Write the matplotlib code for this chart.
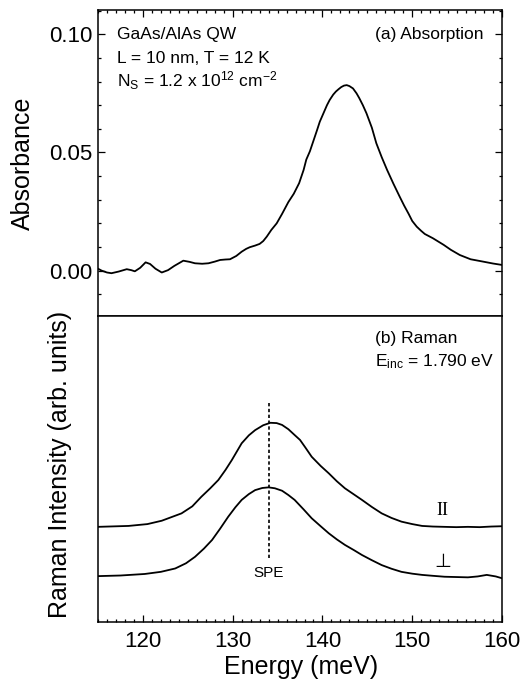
import numpy as np
import matplotlib
matplotlib.use("Agg")
import matplotlib.pyplot as plt
from matplotlib.ticker import MultipleLocator

plt.rcParams['font.family'] = ['Liberation Sans', 'DejaVu Sans']
plt.rcParams['mathtext.fontset'] = 'custom'
plt.rcParams['mathtext.rm'] = 'Liberation Sans'
plt.rcParams['mathtext.it'] = 'Liberation Sans:italic'

# (a) absorption spectrum
abs_energy = [115.0, 115.4, 116.0, 116.5, 117.3, 118.2, 118.7, 119.1, 119.7, 120.3,
              120.8, 121.4, 122.1, 122.8, 123.5, 124.5, 125.2, 125.8, 126.6, 127.3,
              128.0, 128.6, 129.2, 129.7, 130.4, 131.0, 131.5, 131.9, 132.5, 133.0,
              133.4, 133.8, 134.3, 134.9, 135.5, 136.2, 136.8, 137.4, 137.9, 138.2,
              138.6, 139.0, 139.4, 139.7, 140.1, 140.5, 140.8, 141.2, 141.5, 141.8,
              142.1, 142.4, 142.7, 143.0, 143.4, 143.8, 144.1, 144.5, 144.9, 145.5,
              146.0, 146.6, 147.2, 147.9, 148.6, 149.1, 149.6, 150.0, 150.5, 151.0,
              151.4, 151.9, 152.3, 152.9, 153.5, 154.3, 155.3, 156.5, 157.9, 159.0,
              160.0]
absorbance = [0.0008, 0.0000, -0.0008, -0.0011, -0.0004, 0.0006, 0.0002, -0.0003, 0.0012, 0.0035,
              0.0028, 0.0008, -0.0008, 0.0002, 0.0020, 0.0042, 0.0037, 0.0031, 0.0029, 0.0031,
              0.0038, 0.0045, 0.0047, 0.0048, 0.0062, 0.0080, 0.0092, 0.0099, 0.0106, 0.0113,
              0.0125, 0.0144, 0.0172, 0.0200, 0.0240, 0.0290, 0.0325, 0.0370, 0.0426, 0.0470,
              0.0505, 0.0550, 0.0595, 0.0630, 0.0665, 0.0700, 0.0722, 0.0745, 0.0758, 0.0768,
              0.0777, 0.0783, 0.0785, 0.0781, 0.0771, 0.0750, 0.0730, 0.0700, 0.0666, 0.0605,
              0.0539, 0.0480, 0.0426, 0.0368, 0.0313, 0.0275, 0.0240, 0.0210, 0.0186, 0.0168,
              0.0155, 0.0145, 0.0137, 0.0123, 0.0109, 0.0088, 0.0066, 0.0048, 0.0038, 0.0030,
              0.0024]

# (b) Raman spectra (arb. units, offset), parallel and perpendicular polarisation
raman_par_energy = [115.0, 118.4, 120.5, 122.1, 124.3, 125.5, 126.5, 127.5, 128.4, 129.2,
                    129.9, 131.0, 131.8, 132.5, 133.4, 134.2, 134.9, 135.5, 136.2, 136.9,
                    137.5, 138.1, 138.8, 139.8, 140.7, 141.6, 142.5, 143.5, 144.4, 145.5,
                    146.6, 147.7, 148.8, 150.0, 151.1, 152.3, 153.6, 154.9, 156.2, 157.5,
                    158.8, 160.0]
raman_par = [0.311, 0.314, 0.320, 0.331, 0.355, 0.378, 0.409, 0.437, 0.464, 0.497,
             0.529, 0.584, 0.610, 0.627, 0.643, 0.651, 0.650, 0.644, 0.630, 0.611,
             0.595, 0.570, 0.540, 0.510, 0.486, 0.460, 0.437, 0.417, 0.399, 0.376,
             0.355, 0.340, 0.328, 0.320, 0.314, 0.312, 0.311, 0.310, 0.311, 0.310,
             0.312, 0.313]

raman_perp_energy = [115.0, 117.5, 120.2, 122.0, 123.6, 124.8, 125.8, 126.8, 127.7, 128.6,
                     129.5, 130.3, 131.0, 131.8, 132.5, 133.3, 134.0, 134.7, 135.5, 136.2,
                     136.9, 137.9, 138.8, 139.8, 140.7, 141.6, 142.5, 143.5, 144.4, 145.5,
                     146.6, 147.7, 148.8, 150.0, 151.1, 152.3, 153.6, 154.9, 156.2, 157.3,
                     158.3, 159.3, 160.0]
raman_perp = [0.150, 0.152, 0.157, 0.164, 0.175, 0.192, 0.213, 0.240, 0.268, 0.305,
              0.344, 0.375, 0.399, 0.418, 0.431, 0.438, 0.440, 0.437, 0.429, 0.415,
              0.399, 0.368, 0.339, 0.313, 0.290, 0.270, 0.252, 0.235, 0.219, 0.202,
              0.186, 0.174, 0.164, 0.158, 0.154, 0.151, 0.148, 0.147, 0.146, 0.149,
              0.154, 0.149, 0.143]

spe_energy = 134.0
spe_span = (0.209, 0.717)

fig = plt.figure(figsize=(5.27, 6.89), dpi=100)
left, width = 0.186, 0.7666
ax_a = fig.add_axes([left, 0.5414, width, 0.4441])
ax_b = fig.add_axes([left, 0.0972, width, 0.4442])

for ax in (ax_a, ax_b):
    for sp in ax.spines.values():
        sp.set_linewidth(1.1)
    ax.set_xlim(115, 160)
    ax.xaxis.set_major_locator(MultipleLocator(10))
    ax.xaxis.set_minor_locator(MultipleLocator(1))
    ax.tick_params(which='both', direction='in', width=0.9)
    ax.tick_params(which='major', length=5)
    ax.tick_params(which='minor', length=2.5)

# --- absorption panel
ax_a.plot(abs_energy, absorbance, color='black', linewidth=1.3)
ax_a.set_ylim(-0.0192, 0.1103)
ax_a.yaxis.set_major_locator(MultipleLocator(0.05))
ax_a.yaxis.set_minor_locator(MultipleLocator(0.01))
ax_a.yaxis.set_major_formatter(plt.FormatStrFormatter('%.2f'))
ax_a.tick_params(which='both', top=True, bottom=False, right=True, left=True,
                 labelbottom=False)
ax_a.tick_params(axis='y', labelsize=16, pad=4)
ax_a.set_ylabel('Absorbance', fontsize=18, va='center')
ax_a.yaxis.set_label_coords(-0.186, 0.5)

txt = dict(fontsize=12.5, transform=ax_a.transAxes, va='center')
ax_a.text(0.046, 0.921, 'GaAs/AlAs QW', ha='left', **txt)
ax_a.text(0.046, 0.842, 'L = 10 nm, T = 12 K', ha='left', **txt)
ax_a.text(0.046, 0.768, r'N$_\mathrm{S}$ = 1.2 x 10$^{12}$ cm$^{-2}$', ha='left', **txt)
ax_a.text(0.955, 0.921, '(a) Absorption', ha='right', **txt)

# --- Raman panel
ax_b.plot(raman_par_energy, raman_par, color='black', linewidth=1.3)
ax_b.plot(raman_perp_energy, raman_perp, color='black', linewidth=1.3)
ax_b.plot([spe_energy, spe_energy], spe_span, color='black', linewidth=1.2,
          linestyle=(0, (2, 1.5)))
ax_b.set_ylim(0, 1)
ax_b.set_yticks([])
ax_b.tick_params(which='both', top=False, bottom=True, right=False, left=False)
ax_b.tick_params(axis='x', labelsize=16, pad=6.5)
ax_b.set_ylabel('Raman Intensity (arb. units)', fontsize=18, va='center')
ax_b.yaxis.set_label_coords(-0.094, 0.516)
ax_b.set_xlabel('Energy (meV)', fontsize=18)
ax_b.xaxis.set_label_coords(0.503, -0.146)
ax_b.xaxis.label.set_va('center')

ax_b.text(145.85, 0.928, '(b) Raman', fontsize=12.5, ha='left', va='center')
ax_b.text(145.85, 0.850, r'E$_\mathrm{inc}$ = 1.790 eV', fontsize=12.5, ha='left', va='center')
ax_b.text(spe_energy, 0.161, 'SPE', fontsize=11, ha='center', va='center')
ax_b.text(153.4, 0.366, 'II', fontsize=13, ha='center', va='center',
          family=['Liberation Serif', 'DejaVu Serif'])
ax_b.text(153.4, 0.197, '\u22a5', fontsize=14, ha='center', va='center',
          family=['DejaVu Sans'])

fig.savefig('out.png', dpi=100)
